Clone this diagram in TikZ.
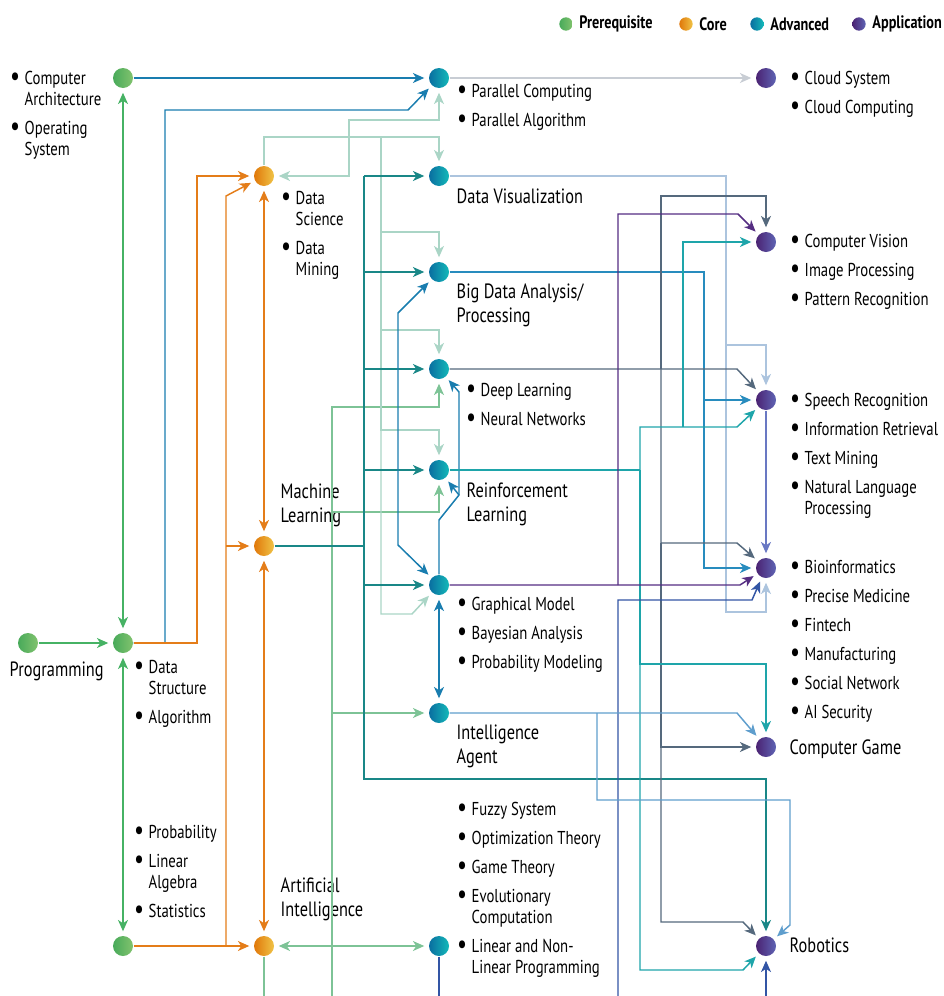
\documentclass[tikz,border=0pt]{standalone}
\usepackage{fontspec}
\setmainfont{PT Sans}[FakeStretch=0.79]
\usepackage{xcolor}
\usepackage{tikz}
\usetikzlibrary{positioning,arrows.meta}

% node colours (left/right of the shading)
\definecolor{preA}{RGB}{72,170,90}
\definecolor{preB}{RGB}{130,195,110}
\definecolor{corA}{RGB}{224,120,10}
\definecolor{corB}{RGB}{240,195,70}
\definecolor{advA}{RGB}{10,110,160}
\definecolor{advB}{RGB}{20,185,185}
\definecolor{appA}{RGB}{75,35,115}
\definecolor{appB}{RGB}{95,100,180}
% link colours
\definecolor{cpre}{RGB}{70,178,100}
\definecolor{ccor}{RGB}{228,125,25}
\definecolor{cblu}{RGB}{25,125,175}
\definecolor{clgr}{RGB}{125,195,150}
\definecolor{cmnt}{RGB}{170,213,198}
\definecolor{cdtl}{RGB}{25,135,135}
\definecolor{cgry}{RGB}{200,205,212}
\definecolor{clbl}{RGB}{172,196,222}
\definecolor{cbbl}{RGB}{40,140,190}
\definecolor{cslt}{RGB}{85,105,125}
\definecolor{ctl2}{RGB}{30,165,170}
\definecolor{cpur}{RGB}{85,45,130}
\definecolor{cdbl}{RGB}{50,85,165}
\definecolor{cibl}{RGB}{95,158,205}
\definecolor{csbl}{RGB}{105,120,195}

\newcommand{\itm}{\makebox[11pt][l]{\raisebox{-0.15ex}{\scalebox{1.5}{\textbullet}}}}

\begin{document}
\begin{tikzpicture}[x=0.75pt, y=-0.75pt, line width=1.1pt, >={Stealth[length=8.5pt,width=7.5pt,inset=2.5pt]}]
            \tikzstyle{pre} = [circle, minimum size=15pt, inner sep=0pt, left color=preA, right color=preB];
            \tikzstyle{core} = [circle, minimum size=15pt, inner sep=0pt, left color=corA, right color=corB];
            \tikzstyle{adv} = [circle, minimum size=15pt, inner sep=0pt, left color=advA, right color=advB];
            \tikzstyle{app} = [circle, minimum size=15pt, inner sep=0pt, left color=appA, right color=appB];
            \tikzstyle{key} = [circle, minimum size=10pt, inner sep=0pt];
            \tikzstyle{keytxt} = [inner sep=0pt, font=\fontsize{13.5}{15}\selectfont\bfseries];
            \tikzstyle{items} = [anchor=base west, inner sep=0pt, font=\fontsize{14}{15.75}\selectfont];
            \tikzstyle{big} = [anchor=base west, inner sep=0pt, font=\fontsize{15.5}{18}\selectfont];
            \tikzstyle{ar} = [->, shorten >=3pt];
            \tikzstyle{biar} = [<->, shorten >=3pt, shorten <=3pt];
            \useasboundingbox (0,0) rectangle (944,996);

            % legend
            \node [key, left color=preA, right color=preB] (kPre) at (566,24) {};
            \node [keytxt, right=4pt of kPre] {Prerequisite};
            \node [key, left color=corA, right color=corB] (kCor) at (686,24) {};
            \node [keytxt, right=4pt of kCor] {Core};
            \node [key, left color=advA, right color=advB] (kAdv) at (757,24) {};
            \node [keytxt, right=4pt of kAdv] {Advanced};
            \node [key, left color=appA, right color=appB] (kApp) at (859,24) {};
            \node [keytxt, right=4pt of kApp] {Application};

            % prerequisite
            \node [pre] (CA) at (123,78) {};
            \node [pre] (Prog) at (28,643) {};
            \node [pre] (DS) at (123,643) {};
            \node [pre] (Mth) at (123,946) {};

            % core
            \node [core] (DSci) at (264,176) {};
            \node [core] (ML) at (264,546) {};
            \node [core] (AI) at (264,946) {};

            % advanced
            \node [adv] (PC) at (439,78) {};
            \node [adv] (DV) at (439,176) {};
            \node [adv] (BD) at (439,272) {};
            \node [adv] (DL) at (439,369) {};
            \node [adv] (RL) at (439,470) {};
            \node [adv] (GM) at (439,585) {};
            \node [adv] (IA) at (439,713) {};
            \node [adv] (OPT) at (439,946) {};

            % application
            \node [app] (Cloud) at (766,78) {};
            \node [app] (CV) at (766,242) {};
            \node [app] (SR) at (766,400) {};
            \node [app] (BIO) at (766,568) {};
            \node [app] (CG) at (766,747) {};
            \node [app] (ROB) at (766,946) {};

            % texts
            \node [items] (CAtxt) at (9.3,84.5) {\begin{tabular}[t]{@{}l@{}l@{}}\itm&Computer\\&Architecture\\[6pt]\itm&Operating\\&System\end{tabular}};
            \node [items] (PCtxt) at (456.3,97.5) {\begin{tabular}[t]{@{}l@{}l@{}}\itm&Parallel Computing\\[6pt]\itm&Parallel Algorithm\end{tabular}};
            \node [items] (Cloudtxt) at (789.3,84.5) {\begin{tabular}[t]{@{}l@{}l@{}}\itm&Cloud System\\[6pt]\itm&Cloud Computing\end{tabular}};
            \node [items] (DScitxt) at (280.3,204.5) {\begin{tabular}[t]{@{}l@{}l@{}}\itm&Data\\&Science\\[6pt]\itm&Data\\&Mining\end{tabular}};
            \node [items] (DLtxt) at (465.3,396.5) {\begin{tabular}[t]{@{}l@{}l@{}}\itm&Deep Learning\\[6pt]\itm&Neural Networks\end{tabular}};
            \node [items] (CVtxt) at (789.3,247.5) {\begin{tabular}[t]{@{}l@{}l@{}}\itm&Computer Vision\\[6pt]\itm&Image Processing\\[6pt]\itm&Pattern Recognition\end{tabular}};
            \node [items] (SRtxt) at (789.3,406.5) {\begin{tabular}[t]{@{}l@{}l@{}}\itm&Speech Recognition\\[6pt]\itm&Information Retrieval\\[6pt]\itm&Text Mining\\[6pt]\itm&Natural Language\\&Processing\end{tabular}};
            \node [items] (GMtxt) at (456.3,610.5) {\begin{tabular}[t]{@{}l@{}l@{}}\itm&Graphical Model\\[6pt]\itm&Bayesian Analysis\\[6pt]\itm&Probability Modeling\end{tabular}};
            \node [items] (BIOtxt) at (789.3,573.5) {\begin{tabular}[t]{@{}l@{}l@{}}\itm&Bioinformatics\\[6pt]\itm&Precise Medicine\\[6pt]\itm&Fintech\\[6pt]\itm&Manufacturing\\[6pt]\itm&Social Network\\[6pt]\itm&AI Security\end{tabular}};
            \node [items] (DStxt) at (133.3,673.5) {\begin{tabular}[t]{@{}l@{}l@{}}\itm&Data\\&Structure\\[6pt]\itm&Algorithm\end{tabular}};
            \node [items] (Mthtxt) at (133.3,838.5) {\begin{tabular}[t]{@{}l@{}l@{}}\itm&Probability\\[6pt]\itm&Linear\\&Algebra\\[6pt]\itm&Statistics\end{tabular}};
            \node [items] (OPTtxt) at (456.3,815.5) {\begin{tabular}[t]{@{}l@{}l@{}}\itm&Fuzzy System\\[6pt]\itm&Optimization Theory\\[6pt]\itm&Game Theory\\[6pt]\itm&Evolutionary\\&Computation\\[6pt]\itm&Linear and Non-\\&Linear Programming\end{tabular}};

            \node [big] (Progtxt) at (9,676) {Programming};
            \node [big] (MLtxt) at (280,498) {\begin{tabular}[t]{@{}l@{}}Machine\\Learning\end{tabular}};
            \node [big] (AItxt) at (280,892) {\begin{tabular}[t]{@{}l@{}}Artificial\\Intelligence\end{tabular}};
            \node [big] (DVtxt) at (456,203) {Data Visualization};
            \node [big] (BDtxt) at (456,298) {\begin{tabular}[t]{@{}l@{}}Big Data Analysis/\\Processing\end{tabular}};
            \node [big] (RLtxt) at (466,497) {\begin{tabular}[t]{@{}l@{}}Reinforcement\\Learning\end{tabular}};
            \node [big] (IAtxt) at (456,739) {\begin{tabular}[t]{@{}l@{}}Intelligence\\Agent\end{tabular}};
            \node [big] (CGtxt) at (789,754) {Computer Game};
            \node [big] (ROBtxt) at (789,952) {Robotics};

            % prerequisite links
            \draw [cpre, ar] (Prog) -- (DS);
            \draw [cpre, biar] (DS) -- (CA);
            \draw [cpre, biar] (DS) -- (Mth);
            \draw [cblu, ar] (CA) -- (PC);
            \draw [cblu, ar] (DS) -| (165,110) -- (408,110) -- (PC);
            \draw [ccor, ar] (DS) -| (197,176) -- (DSci);
            \draw [ccor, ar] (Mth) -- (AI);
            \draw [ccor, ar] (226,946) -- (226,196) -- (DSci);
            \draw [ccor, ar] (226,546) -- (ML);

            % core links
            \draw [ccor, biar] (DSci) -- (ML);
            \draw [ccor, biar] (ML) -- (AI);
            \draw [clgr, biar] (AI) -- (OPT);
            \coordinate (aiout) at (264,996);
            \draw [clgr] (AI) -- (aiout);
            \coordinate (lgin) at (332,996);
            \draw [clgr, ar] (lgin) -- (332,407) -| (DL);
            \draw [clgr, ar] (332,512) -| (RL);
            \draw [clgr, ar] (332,713) -- (IA);

            % data science
            \draw [cmnt, ar] (DSci) |- (439,137) -- (DV);
            \draw [cmnt, ar] (381,137) |- (439,232) -- (BD);
            \draw [cmnt, ar] (381,232) |- (439,330) -- (DL);
            \draw [cmnt, ar] (381,330) |- (439,430) -- (RL);
            \draw [cmnt, ar] (381,430) |- (412,614) -- (GM);
            \draw [cmnt, biar] (PC) -- (439,120) -| (349,176) -- (DSci);

            % machine learning
            \coordinate (mlbus) at (364,546);
            \draw [cdtl] (ML) -- (mlbus);
            \foreach \n in {DV, BD, DL, RL, GM}
                \draw [cdtl, ar] (mlbus |- \n) -- (\n);
            \draw [cdtl, ar] (mlbus |- DV) |- (766,779) -- (ROB);

            % graphical model
            \draw [cblu, biar] (BD) -- (398,313) -- (398,545) -- (GM);
            \draw [cblu, ar] (GM) -- (439,520) -- (459,495) -- (459,392) -- (DL);
            \draw [cblu, ar] (459,495) -- (RL);
            \draw [cblu, biar] (GM) -- (IA);

            % applications
            \draw [cgry, ar] (PC) -- (Cloud);
            \draw [clbl, ar] (DV) -| (726,345) -| (SR);
            \draw [clbl, ar] (726,345) |- (766,612) -- (BIO);
            \draw [cbbl, ar] (BD) -| (704,568) -- (BIO);
            \draw [cbbl, ar] (704,400) -- (SR);
            \draw [cslt, ar] (DL) -- (737,369) -- (SR);
            \draw [cslt, ar] (661,369) |- (766,196) -- (CV);
            \draw [cslt, ar] (661,369) |- (737,543) -- (BIO);
            \draw [cslt, ar] (661,543) |- (CG);
            \draw [cslt, ar] (661,747) |- (743,922) -- (ROB);
            \draw [ctl2] (RL) -- (640,470);
            \draw [ctl2, ar] (640,470) |- (737,427) -- (SR);
            \draw [ctl2, ar] (683,427) |- (CV);
            \draw [ctl2, ar] (640,470) |- (766,664) -- (CG);
            \draw [ctl2, ar] (640,664) |- (743,970) -- (ROB);
            \draw [cpur, ar] (GM) -- (740,585) -- (BIO);
            \draw [cpur, ar] (618,585) |- (738,214) -- (CV);
            \coordinate (optout) at (439,996);
            \draw [cdbl] (OPT) -- (optout);
            \coordinate (bioin) at (618,996);
            \draw [cdbl, ar] (bioin) |- (752,600) -- (BIO);
            \coordinate (robin) at (766,996);
            \draw [cdbl, ar] (robin) -- (ROB);
            \draw [cibl, ar] (IA) -- (737,713) -- (CG);
            \draw [cibl, ar] (597,713) |- (790,800) -- (790,925) -- (ROB);
            \draw [csbl, ar] (SR) -- (BIO);
        \end{tikzpicture}
\end{document}
